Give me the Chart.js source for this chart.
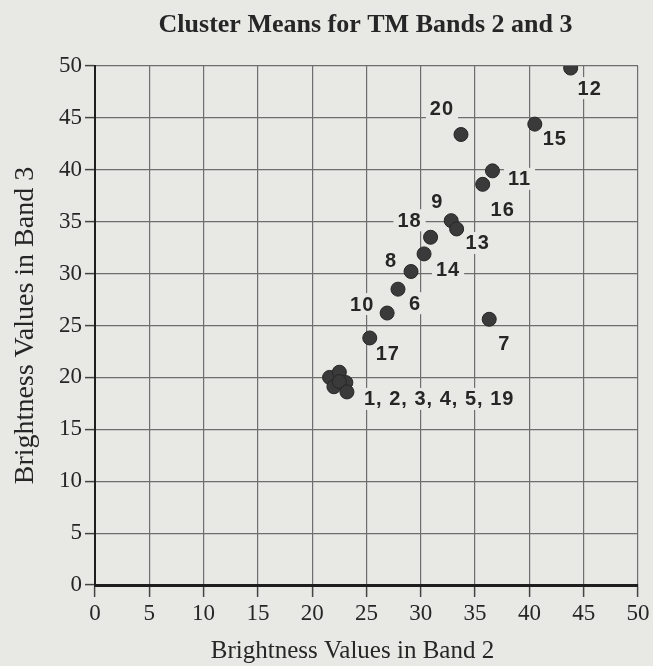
<!DOCTYPE html>
<html>
<head>
<meta charset="utf-8">
<title>Cluster Means for TM Bands 2 and 3</title>
<script src="https://cdn.jsdelivr.net/npm/chart.js@4/dist/chart.umd.min.js"></script>
<style>
  html, body { margin: 0; padding: 0; background: #e8e8e5; }
  #wrap { width: 653px; height: 666px; }
</style>
</head>
<body>
<div id="wrap"><canvas id="chart" width="653" height="666"></canvas></div>
<script>
// Cluster identifiers and their mean brightness values
const clusterIds = [1, 2, 3, 4, 5, 19, 6, 7, 8, 9, 10, 11, 12, 13, 14, 15, 16, 17, 18, 20];
const band2 = [21.6, 22.5, 22.0, 23.1, 22.5, 23.2, 27.9, 36.3, 29.1, 32.8, 26.9, 36.6, 43.8, 33.3, 30.3, 40.5, 35.7, 25.3, 30.9, 33.7];
const band3 = [20.0, 20.5, 19.1, 19.5, 19.6, 18.6, 28.5, 25.6, 30.2, 35.1, 26.2, 39.9, 49.8, 34.3, 31.9, 44.4, 38.6, 23.8, 33.5, 43.4];

// Clusters that overlap and share one label
const groupedIds = [1, 2, 3, 4, 5, 19];
const groupAnchorId = 19;

const axisTicks = [0, 5, 10, 15, 20, 25, 30, 35, 40, 45, 50];

const chartTitle = 'Cluster Means for TM Bands 2 and 3';
const xTitle = 'Brightness Values in Band 2';
const yTitle = 'Brightness Values in Band 3';

const PAPER = '#e8e8e5';
const INK = '#262626';
const serif = '"Liberation Serif", "Times New Roman", serif';

// Label placement relative to each point (pixels)
const labelPlacement = {
  12: { dx: 19, dy: 20 },
  20: { dx: -19, dy: -26 },
  15: { dx: 20, dy: 14 },
  11: { dx: 27, dy: 8 },
  16: { dx: 20, dy: 25 },
  9:  { dx: -14, dy: -19 },
  18: { dx: -21, dy: -17 },
  13: { dx: 21, dy: 14 },
  14: { dx: 24, dy: 16 },
  8:  { dx: -20, dy: -11 },
  6:  { dx: 17, dy: 14 },
  10: { dx: -25, dy: -9 },
  7:  { dx: 15, dy: 24 },
  17: { dx: 18, dy: 16 },
  group: { dx: 17, dy: 7, align: 'left' }
};

const points = band2.map((x, i) => ({ x, y: band3[i] }));

// Point labels with a paper-coloured knock-out behind them
const clusterLabels = {
  id: 'clusterLabels',
  beforeDatasetsDraw(chart) {
    const ctx = chart.ctx;
    const meta = chart.getDatasetMeta(0);
    ctx.save();
    ctx.font = 'bold 20px "Liberation Sans", Arial, sans-serif';
    if ('letterSpacing' in ctx) ctx.letterSpacing = '1px';
    ctx.textBaseline = 'middle';
    ctx.textAlign = 'left';
    clusterIds.forEach((id, i) => {
      let text, place;
      if (groupedIds.includes(id)) {
        if (id !== groupAnchorId) return;
        text = groupedIds.join(', ');
        place = labelPlacement.group;
      } else {
        text = String(id);
        place = labelPlacement[id];
      }
      const el = meta.data[i];
      const align = place.align || 'center';
      const w = ctx.measureText(text).width;
      const cx = el.x + place.dx;
      const cy = el.y + place.dy;
      const left = align === 'left' ? cx : cx - w / 2;
      ctx.fillStyle = PAPER;
      ctx.fillRect(left - 4, cy - 11, w + 8, 22);
      ctx.fillStyle = INK;
      ctx.fillText(text, left, cy + 1);
    });
    ctx.restore();
  }
};

// Paper background plus the chart title and horizontal axis title
const captions = {
  id: 'captions',
  beforeDraw(chart) {
    const ctx = chart.ctx;
    ctx.save();
    ctx.fillStyle = PAPER;
    ctx.fillRect(0, 0, chart.width, chart.height);
    ctx.restore();
  },
  afterDraw(chart) {
    const ctx = chart.ctx;
    const area = chart.chartArea;
    const mid = (area.left + area.right) / 2;
    ctx.save();
    ctx.fillStyle = INK;
    ctx.textAlign = 'center';
    ctx.textBaseline = 'alphabetic';
    ctx.font = 'bold 26px ' + serif;
    ctx.fillText(chartTitle, mid - 1, 32);
    ctx.font = '25px ' + serif;
    ctx.fillText(xTitle, mid - 14, 658);
    ctx.restore();
  }
};

new Chart(document.getElementById('chart'), {
  type: 'scatter',
  data: {
    datasets: [{
      data: points,
      pointRadius: 7,
      pointHoverRadius: 7,
      pointBackgroundColor: '#3a3a3a',
      pointBorderColor: '#262626',
      pointBorderWidth: 1
    }]
  },
  options: {
    responsive: false,
    animation: false,
    devicePixelRatio: 1,
    layout: { padding: { left: 0, right: 15, top: 66, bottom: 0 } },
    plugins: {
      legend: { display: false },
      tooltip: { enabled: false },
      title: { display: false }
    },
    scales: {
      x: {
        type: 'linear',
        min: 0,
        max: 50,
        afterBuildTicks(scale) { scale.ticks = axisTicks.map(v => ({ value: v })); },
        afterFit(scale) { scale.height = 81; scale.paddingLeft = 0; scale.paddingRight = 0; },
        grid: { color: '#6e6e6e', lineWidth: 1.2, tickLength: 12, tickColor: '#444', tickWidth: 1.5 },
        border: { display: true, color: '#1e1e1e', width: 3 },
        ticks: { color: INK, padding: 3, font: { family: serif, size: 23 } },
        title: { display: false }
      },
      y: {
        type: 'linear',
        min: 0,
        max: 50,
        afterBuildTicks(scale) { scale.ticks = axisTicks.map(v => ({ value: v })); },
        afterFit(scale) { scale.width = 95; scale.paddingTop = 0; scale.paddingBottom = 0; },
        grid: { color: '#6e6e6e', lineWidth: 1.2, tickLength: 10, tickColor: '#444', tickWidth: 1.5 },
        border: { display: true, color: '#1e1e1e', width: 2 },
        ticks: { color: INK, padding: 3, font: { family: serif, size: 23 } },
        title: {
          display: true,
          text: yTitle,
          color: INK,
          font: { family: serif, size: 28 },
          padding: { top: 9, bottom: 0 }
        }
      }
    }
  },
  plugins: [captions, clusterLabels]
});
</script>
</body>
</html>
